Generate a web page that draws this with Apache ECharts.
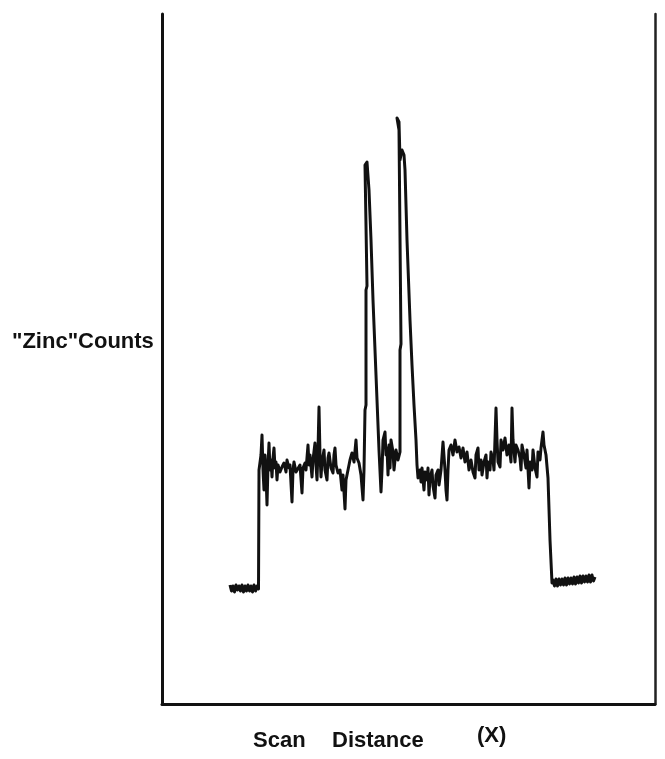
<!DOCTYPE html>
<html>
<head>
<meta charset="utf-8">
<script src="https://cdn.jsdelivr.net/npm/echarts@6/dist/echarts.min.js"></script>
<style>html,body{margin:0;padding:0;background:#fff}#c{width:665px;height:759px}</style>
</head>
<body>
<div id="c"></div>
<script>
// Scan distance (arbitrary units) and "Zinc" counts (arbitrary units)
const scanDistance = [
  68,69.5,71,72.5,74,75.5,77,78.5,80,81.5,83,84.5,86,87.5,89,90.5,92,93.5,95,96.5,
  97,99,100,101,102,103,104,105,106,107,108,109,110,111,112,113,114,115,116,118,120,122,124,125,127,128,130,131,132,134,136,138,140,141,143,144,146,147,148,150,151,153,154,155,156,157,158,159,160,162,163,165,166,167,169,171,172,173,174,176,178,180,181,183,184,186,188,190,192,194,195,197,199,201,202,
  203,204,204,205,203,205,207,209,211,213,215,217,219,
  220,221,223,224,225,226,227,228,229,231,232,234,236,238,
  238,239,237,235,237,238,240,242,243,245,248,250,252,254,255,
  256,258,259,260,262,263,265,266,267,268,270,271,273,274,276,277,279,281,283,284,285,286,287,289,291,293,295,297,299,301,303,305,307,309,311,313,314,316,317,319,320,322,324,325,326,328,329,331,332,334,335,336,338,339,341,343,345,347,349,350,351,353,354,356,358,359,360,362,364,365,367,368,370,371,373,375,376,378,379,381,382,384,386,
  388,390,
  391,392.5,394,395.5,397,398.5,400,401.5,403,404.5,406,407.5,409,410.5,412,413.5,415,416.5,418,419.5,421,422.5,424,425.5,427,428.5,430,431.5,433
];
const zincCounts = [
  119,113,118,112,119,114,118,113,119,112,118,113,119,113,118,112,119,113,118,115,
  234,249,269,234,214,249,229,199,239,261,234,244,227,246,256,236,242,224,239,232,237,241,232,244,236,239,202,234,242,232,234,239,211,236,241,234,259,239,249,227,244,261,239,224,254,297,249,227,242,254,234,224,246,251,236,231,249,256,239,231,234,214,229,195,224,234,244,251,242,264,246,241,229,204,234,
  294,299,414,418,539,542,514,464,404,354,304,254,212,
  234,264,272,249,256,229,259,236,264,252,234,254,244,252,
  354,360,574,586,582,544,554,549,534,464,384,339,299,264,239,
  226,234,222,236,214,232,224,236,209,226,234,218,206,229,234,219,234,262,234,214,204,234,254,259,249,264,252,257,246,256,242,252,234,244,232,226,249,256,234,244,229,242,249,226,242,234,252,244,234,296,264,242,237,264,254,266,249,259,242,296,264,242,259,254,246,234,259,249,236,254,216,242,234,254,236,227,252,244,256,272,259,249,226,
  164,121,
  124,118,125,118,125,119,125,119,126,119,126,120,126,120,127,120,127,121,128,121,128,122,128,122,129,122,129,123,127
];
const xTitleWords = ['Scan', 'Distance'];
const xUnit = '(X)';
const yTitle = '"Zinc"Counts';

const trace = scanDistance.map((x, i) => [x, zincCounts[i]]);
const chart = echarts.init(document.getElementById('c'), null, {renderer: 'canvas'});
const axisLineStyle = {color: '#111', width: 3};
const font = 'bold 22px "Liberation Sans", Arial, sans-serif';
chart.setOption({
  backgroundColor: '#ffffff',
  animation: false,
  grid: {left: 162, right: 10, top: 14, bottom: 55, containLabel: false},
  xAxis: {
    type: 'value', min: 0, max: 493,
    axisLine: {show: true, onZero: false, lineStyle: axisLineStyle},
    axisTick: {show: false}, axisLabel: {show: false}, splitLine: {show: false}
  },
  yAxis: [
    {
      type: 'value', min: 0, max: 690, position: 'left',
      axisLine: {show: true, onZero: false, lineStyle: axisLineStyle},
      axisTick: {show: false}, axisLabel: {show: false}, splitLine: {show: false}
    },
    {
      type: 'value', min: 0, max: 690, position: 'right',
      axisLine: {show: true, onZero: false, lineStyle: {color: '#222', width: 2.5}},
      axisTick: {show: false}, axisLabel: {show: false}, splitLine: {show: false}
    }
  ],
  graphic: [
    {type: 'text', left: 12, top: 331, style: {text: yTitle, font: font, fill: '#111'}},
    {type: 'text', left: 253, top: 730, style: {text: xTitleWords[0], font: font, fill: '#111', letterSpacing: 0.6}},
    {type: 'text', left: 332, top: 730, style: {text: xTitleWords[1], font: font, fill: '#111', letterSpacing: 0.8}},
    {type: 'text', left: 477, top: 725, style: {text: xUnit, font: font, fill: '#111', letterSpacing: 1}}
  ],
  series: [{
    type: 'line',
    data: trace,
    showSymbol: false,
    symbol: 'none',
    lineStyle: {color: '#111', width: 3, join: 'round'},
    z: 3
  }]
});
</script>
</body>
</html>
